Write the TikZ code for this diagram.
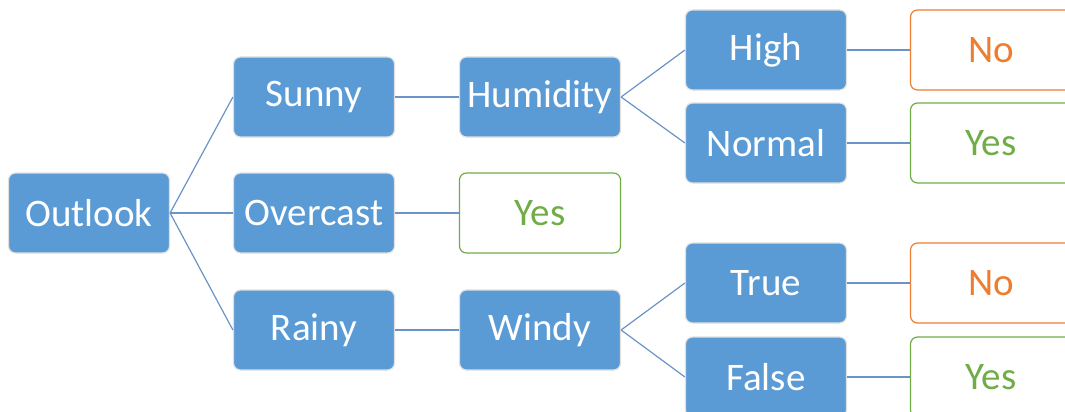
\documentclass[tikz,border=0pt]{standalone}
\usepackage{fontspec}
\setmainfont{Carlito}
\usetikzlibrary{positioning}

\definecolor{boxblue}{HTML}{5B9BD5}
\definecolor{edgeblue}{HTML}{6A93C6}
\definecolor{noorange}{HTML}{ED7D31}
\definecolor{yesgreen}{HTML}{70AD47}

\tikzset{
  decision/.style={draw=black!12, line width=1.2pt, fill=boxblue, text=white,
    rounded corners=7pt, minimum width=161pt, minimum height=80pt,
    inner sep=0pt, font=\fontsize{39}{46}\selectfont},
  leafno/.style={decision, draw=noorange, fill=white, text=noorange},
  leafyes/.style={decision, draw=yesgreen, fill=white, text=yesgreen},
  branch/.style={edgeblue, line width=1.2pt}
}

\begin{document}
\begin{tikzpicture}[x=1pt, y=-1pt]
  \useasboundingbox (0,0) rectangle (1065,412);
  \clip (0,0) rectangle (1065,412);
  % root and first level
  \node[decision] (outlook) at (89,213) {Outlook};
  \node[decision] (sunny) at (314,97) {Sunny};
  \node[decision] (overcast) at (314,213) {Overcast};
  \node[decision] (rainy) at (314,330) {Rainy};
  % second level
  \node[decision] (humidity) at (540,97) {Humidity};
  \node[leafyes] (yesover) at (540,213) {Yes};
  \node[decision] (windy) at (540,330) {Windy};
  % third level
  \node[decision] (high) at (766,50) {High};
  \node[decision] (normal) at (766,143) {Normal};
  \node[decision] (true) at (766,283) {True};
  \node[decision] (false) at (766,377) {False};
  % leaves
  \node[leafno] (nohigh) at (991,50) {No};
  \node[leafyes] (yesnormal) at (991,143) {Yes};
  \node[leafno] (notrue) at (991,283) {No};
  \node[leafyes] (yesfalse) at (991,377) {Yes};
  % connectors
  \foreach \kid in {sunny,overcast,rainy}
    \draw[branch] (outlook.east) -- (\kid.west);
  \draw[branch] (sunny.east) -- (humidity.west);
  \draw[branch] (overcast.east) -- (yesover.west);
  \draw[branch] (rainy.east) -- (windy.west);
  \draw[branch] (humidity.east) -- (high.west);
  \draw[branch] (humidity.east) -- (normal.west);
  \draw[branch] (windy.east) -- (true.west);
  \draw[branch] (windy.east) -- (false.west);
  \draw[branch] (high.east) -- (nohigh.west);
  \draw[branch] (normal.east) -- (yesnormal.west);
  \draw[branch] (true.east) -- (notrue.west);
  \draw[branch] (false.east) -- (yesfalse.west);
\end{tikzpicture}
\end{document}
